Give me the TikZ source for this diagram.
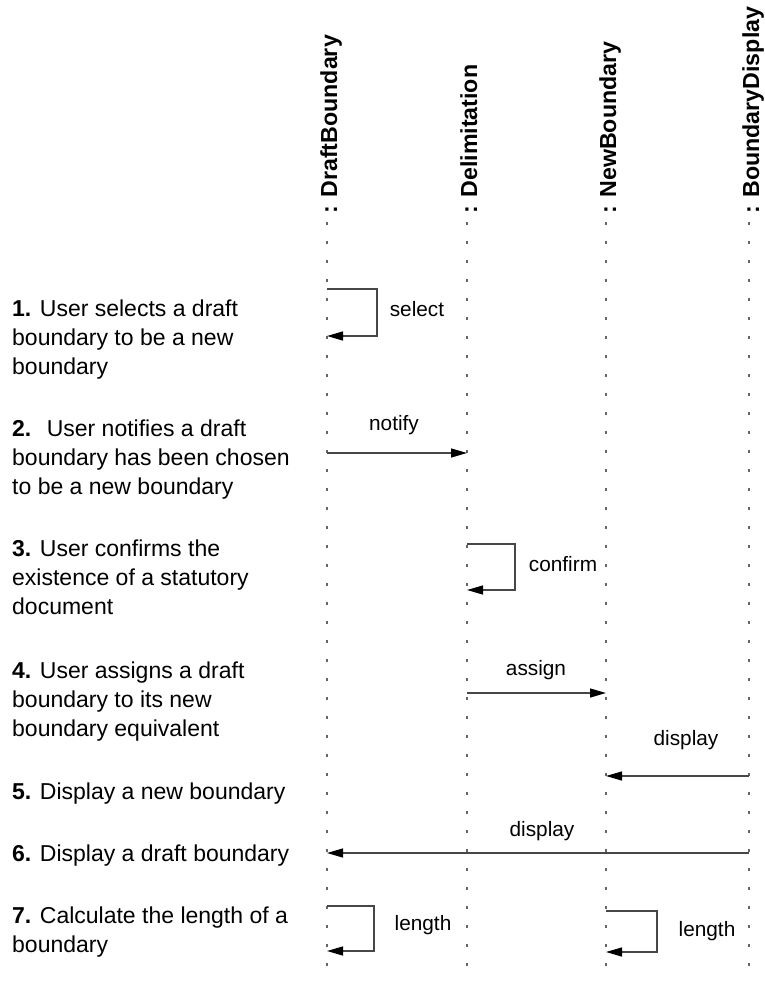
\documentclass[tikz,border=0pt]{standalone}
\usepackage{fontspec}
\setmainfont{Liberation Sans}
\usetikzlibrary{arrows.meta}
\begin{document}
\begin{tikzpicture}[x=1pt,y=-1pt,
  lifeline/.style={draw=black!60, line width=1.4pt, dash pattern=on 2.5pt off 16.5pt},
  msg/.style={draw=black!72, line width=1.3pt, -{Triangle[length=16pt,width=9pt,color=black]}},
  head/.style={rotate=90, anchor=base west, inner sep=0pt, font=\fontsize{23.2}{28}\selectfont\bfseries},
  desc/.style={anchor=north west, inner sep=0pt, align=left, font=\fontsize{23}{29}\selectfont},
  lbl/.style={inner sep=0pt, font=\fontsize{20.8}{24}\selectfont, text height=0.72em, text depth=0pt}]
\useasboundingbox (0,0) rectangle (764,982);
% lifelines
\coordinate (L1t) at (327,222); \coordinate (L1b) at (327,982);
\coordinate (L2t) at (467,222); \coordinate (L2b) at (467,982);
\coordinate (L3t) at (606,222); \coordinate (L3b) at (606,982);
\coordinate (L4t) at (749,222); \coordinate (L4b) at (749,982);
\draw[lifeline] (L1t) -- (L1b);
\draw[lifeline] (L2t) -- (L2b);
\draw[lifeline] (L3t) -- (L3b);
\draw[lifeline] (L4t) -- (L4b);
% headers
\node[head] (h1) at (337,214) {: DraftBoundary};
\node[head] (h2) at (477,214) {: Delimitation};
\node[head] (h3) at (616,214) {: NewBoundary};
\node[head] (h4) at (759,214) {: BoundaryDisplay};
% descriptions
\node[desc] (d1) at (12,300) {\textbf{1.} User selects a draft\\boundary to be a new\\boundary};
\node[desc] (d2) at (12,420) {\textbf{2.}\hspace{0.3em} User notifies a draft\\boundary has been chosen\\to be a new boundary};
\node[desc] (d3) at (12,540) {\textbf{3.} User confirms the\\existence of a statutory\\document};
\node[desc] (d4) at (12,662) {\textbf{4.} User assigns a draft\\boundary to its new\\boundary equivalent};
\node[desc] (d5) at (12,783) {\textbf{5.} Display a new boundary};
\node[desc] (d6) at (12,845) {\textbf{6.} Display a draft boundary};
\node[desc] (d7) at (12,907) {\textbf{7.} Calculate the length of a\\boundary};
% message end points
\coordinate (s1a) at (327,289); \coordinate (s1b) at (327,336);
\coordinate (n1) at (327,453); \coordinate (n2) at (467,453);
\coordinate (c1a) at (467,544); \coordinate (c1b) at (467,590);
\coordinate (a1) at (467,693); \coordinate (a2) at (606,693);
\coordinate (p1) at (749,776); \coordinate (p2) at (606,776);
\coordinate (q1) at (749,853); \coordinate (q2) at (327,853);
\coordinate (g1a) at (327,906); \coordinate (g1b) at (327,951);
\coordinate (g2a) at (606,911); \coordinate (g2b) at (606,952);
% messages
\draw[msg] (s1a) -- ++(50,0) |- (s1b);
\draw[msg] (n1) -- (n2);
\draw[msg] (c1a) -- ++(48,0) |- (c1b);
\draw[msg] (a1) -- (a2);
\draw[msg] (p1) -- (p2);
\draw[msg] (q1) -- (q2);
\draw[msg] (g1a) -- ++(47,0) |- (g1b);
\draw[msg] (g2a) -- ++(51,0) |- (g2b);
% labels
\node[lbl] (l1) at (417,313) {select};
\node[lbl] (l2) at (394,427) {notify};
\node[lbl] (l3) at (563,568) {confirm};
\node[lbl] (l4) at (536,672) {assign};
\node[lbl] (l5) at (686,742) {display};
\node[lbl] (l6) at (542,833) {display};
\node[lbl] (l7) at (423,927) {length};
\node[lbl] (l8) at (707,933) {length};
\end{tikzpicture}
\end{document}
